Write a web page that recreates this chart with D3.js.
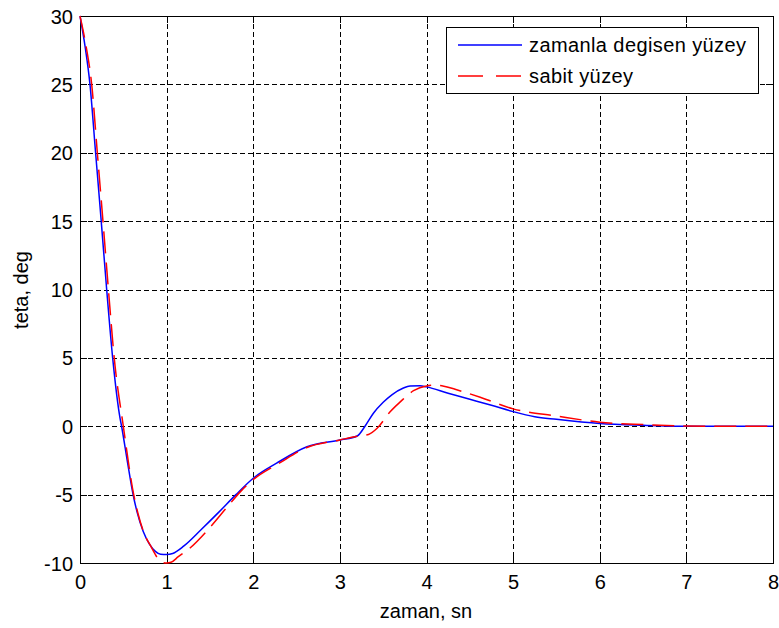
<!DOCTYPE html>
<html>
<head>
<meta charset="utf-8">
<script src="https://cdn.jsdelivr.net/npm/d3@7"></script>
<style>
  html, body { margin: 0; padding: 0; background: #ffffff; }
  svg { display: block; }
  text { font-family: "Liberation Sans", Arial, sans-serif; fill: #000; }
</style>
</head>
<body>
<script>
// ---- data ----
const blueT = [0, 0.058, 0.115, 0.18, 0.245, 0.308, 0.377, 0.462, 0.48, 0.55, 0.61, 0.66, 0.73, 0.8, 0.87, 0.93, 1.0, 1.07, 1.2, 1.4, 1.6, 1.8, 2.0, 2.27, 2.62, 3.0, 3.2, 3.29, 3.387, 3.5, 3.6, 3.733, 3.81, 3.926, 4.0, 4.25, 4.5, 4.75, 5.0, 5.25, 5.5, 6.0, 6.5, 7.0, 7.5, 8.0];
const blueV = [30, 27.8, 25, 20, 15, 10, 5, 0.6, 0, -2.7, -4.9, -6.3, -7.7, -8.6, -9.15, -9.36, -9.38, -9.3, -8.75, -7.55, -6.3, -5.0, -3.8, -2.7, -1.5, -1.0, -0.71, 0, 0.95, 1.75, 2.3, 2.8, 2.95, 2.97, 2.88, 2.41, 1.97, 1.53, 1.07, 0.7, 0.51, 0.2, 0.07, 0.0, 0, 0];

const redT = [0, 0.07, 0.135, 0.2, 0.265, 0.328, 0.395, 0.5, 0.62, 0.67, 0.745, 0.82, 0.885, 0.95, 1.0, 1.05, 1.135, 1.27, 1.5, 1.7, 1.85, 2.0, 2.3, 2.62, 3.0, 3.2, 3.33, 3.43, 3.58, 3.7, 3.85, 4.0, 4.1, 4.2, 4.33, 4.62, 5.0, 5.5, 6.0, 6.5, 7.0, 7.5, 8.0];
const redV = [30, 27.8, 25, 20, 15, 10, 5, 0, -5, -6.4, -7.9, -8.8, -9.54, -9.95, -10.0, -9.95, -9.54, -8.9, -7.4, -5.9, -4.8, -3.9, -2.7, -1.55, -1.0, -0.73, -0.6, -0.15, 1.06, 1.8, 2.6, 2.95, 3.0, 2.93, 2.7, 2.12, 1.27, 0.75, 0.3, 0.12, 0.02, 0, 0];

const xTicks = [0, 1, 2, 3, 4, 5, 6, 7, 8];
const yTicks = [-10, -5, 0, 5, 10, 15, 20, 25, 30];
const seriesNames = ["zamanla degisen yüzey", "sabit yüzey"];
const xLabel = "zaman, sn";
const yLabel = "teta, deg";

// ---- layout ----
const W = 779, H = 628;
const L = 80, R = 773, T = 16, B = 563;

const svg = d3.select("body").append("svg").attr("width", W).attr("height", H);

const x = d3.scaleLinear().domain([0, 8]).range([L, R]);
const y = d3.scaleLinear().domain([-10, 30]).range([B, T]);

// grid
const grid = svg.append("g").attr("stroke", "#000").attr("stroke-width", 1)
  .attr("stroke-dasharray", "5,3").attr("shape-rendering", "crispEdges");
grid.selectAll("line.vx").data(xTicks.filter(d => d > 0 && d < 8)).enter().append("line")
  .attr("x1", d => Math.round(x(d)) + 0.5).attr("x2", d => Math.round(x(d)) + 0.5)
  .attr("y1", T).attr("y2", B);
grid.selectAll("line.hy").data(yTicks.filter(d => d > -10 && d < 30)).enter().append("line")
  .attr("y1", d => Math.round(y(d)) + 0.5).attr("y2", d => Math.round(y(d)) + 0.5)
  .attr("x1", L).attr("x2", R);

// axes (bottom/left with labels, top/right ticks only)
const tickLen = 7;
const fmt = d => String(d);
const axB = svg.append("g").attr("transform", `translate(0,${B})`)
  .call(d3.axisBottom(x).tickValues(xTicks).tickSize(-tickLen).tickPadding(12).tickFormat(fmt));
const axT = svg.append("g").attr("transform", `translate(0,${T})`)
  .call(d3.axisTop(x).tickValues(xTicks).tickSize(-tickLen).tickFormat(""));
const axL = svg.append("g").attr("transform", `translate(${L},0)`)
  .call(d3.axisLeft(y).tickValues(yTicks).tickSize(-tickLen).tickPadding(8).tickFormat(fmt));
const axR = svg.append("g").attr("transform", `translate(${R},0)`)
  .call(d3.axisRight(y).tickValues(yTicks).tickSize(-tickLen).tickFormat(""));
[axB, axT, axL, axR].forEach(a => {
  a.select(".domain").remove();
  a.selectAll("line").attr("stroke", "#000").attr("shape-rendering", "crispEdges");
  a.selectAll("text").attr("font-size", 20).attr("font-family", "'Liberation Sans', Arial, sans-serif").attr("fill", "#000");
});
axB.selectAll("text").attr("dy", null).attr("y", 26);
axL.selectAll("text").attr("x", -7).attr("dy", "0.35em");

// frame
svg.append("rect").attr("x", L + 0.5).attr("y", T + 0.5).attr("width", R - L).attr("height", B - T)
  .attr("fill", "none").attr("stroke", "#000").attr("stroke-width", 1).attr("shape-rendering", "crispEdges");

// lines
const line = d3.line().x(d => x(d[0])).y(d => y(d[1])).curve(d3.curveMonotoneX);
const blueData = blueT.map((t, i) => [t, blueV[i]]);
const redData = redT.map((t, i) => [t, redV[i]]);
svg.append("path").datum(blueData).attr("d", line).attr("fill", "none")
  .attr("stroke", "#0000ff").attr("stroke-width", 1.5);
svg.append("path").datum(redData).attr("d", line).attr("fill", "none")
  .attr("stroke", "#ff0000").attr("stroke-width", 1.5).attr("stroke-dasharray", "22,9");

// axis labels
svg.append("text").attr("x", 426).attr("y", 618).attr("text-anchor", "middle")
  .attr("font-size", 20).text(xLabel);
svg.append("text").attr("transform", "translate(28,290) rotate(-90)").attr("text-anchor", "middle")
  .attr("font-size", 20).text(yLabel);

// legend
const lg = svg.append("g");
lg.append("rect").attr("x", 446.5).attr("y", 27.5).attr("width", 312).attr("height", 66)
  .attr("fill", "#fff").attr("stroke", "#000").attr("stroke-width", 1).attr("shape-rendering", "crispEdges");
const legendStyles = [
  { color: "#0000ff", dash: null, ly: 45 },
  { color: "#ff0000", dash: "25,13", ly: 76 }
];
seriesNames.forEach((name, i) => {
  const s = legendStyles[i];
  lg.append("line").attr("x1", 458).attr("x2", 522).attr("y1", s.ly).attr("y2", s.ly)
    .attr("stroke", s.color).attr("stroke-width", 1.5).attr("stroke-dasharray", s.dash);
  lg.append("text").attr("x", 529).attr("y", s.ly).attr("dy", "0.35em")
    .attr("font-size", 20).attr("letter-spacing", 0.4).text(name);
});
</script>
</body>
</html>
